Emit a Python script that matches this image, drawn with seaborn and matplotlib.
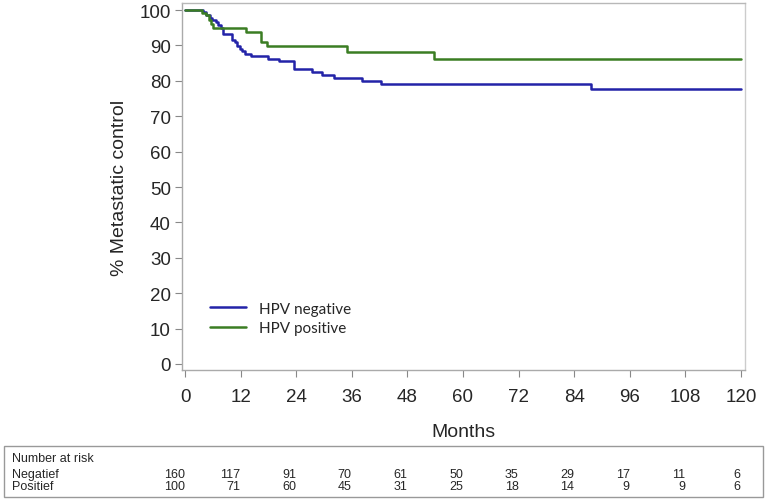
import pandas as pd
import numpy as np
import matplotlib
matplotlib.use("Agg")
import matplotlib.pyplot as plt
import matplotlib.transforms as mtransforms
from matplotlib.patches import Rectangle
from matplotlib.lines import Line2D
import seaborn as sns

# Kaplan-Meier steps (months, % metastatic control)
meses_neg = [0, 3.9, 4.6, 5.4, 5.9, 6.6, 7.1, 7.7, 8.2, 10.2, 10.9, 11.3, 11.8, 12.2,
             12.9, 14.2, 18.0, 20.2, 23.6, 27.5, 29.6, 32.2, 38.2, 42.4, 87.6, 120]
control_neg = [100, 99.4, 98.7, 97.9, 97.2, 96.5, 95.8, 94.9, 93.2, 91.6, 90.9, 89.9, 89.0, 88.3,
               87.6, 86.9, 86.2, 85.5, 83.3, 82.6, 81.6, 80.9, 80.0, 79.1, 77.7, 77.7]
meses_pos = [0, 3.7, 4.5, 5.2, 5.7, 6.1, 13.1, 16.4, 17.8, 35.0, 53.7, 120]
control_pos = [100, 99.3, 98.6, 97.2, 96.0, 95.0, 93.7, 91.1, 89.9, 88.2, 86.2, 86.2]

grupos = ["HPV negative", "HPV positive"]
colores = ["#2323a8", "#3b7d23"]

ticks_meses = [0, 12, 24, 36, 48, 60, 72, 84, 96, 108, 120]
riesgo_neg = [160, 117, 91, 70, 61, 50, 35, 29, 17, 11, 6]
riesgo_pos = [100, 71, 60, 45, 31, 25, 18, 14, 9, 9, 6]
filas_riesgo = ["Negatief", "Positief"]

df = pd.concat([
    pd.DataFrame({"Months": meses_neg, "control": control_neg, "grupo": grupos[0]}),
    pd.DataFrame({"Months": meses_pos, "control": control_pos, "grupo": grupos[1]}),
])

sns.set_style("white")
plt.rcParams["font.family"] = ["Liberation Sans", "DejaVu Sans"]

fig = plt.figure(figsize=(7.67, 5.02), dpi=100)
ax = fig.add_axes([182 / 767, 1 - 371 / 502, (745 - 182) / 767, (371 - 4) / 502])

sns.lineplot(data=df, x="Months", y="control", hue="grupo", palette=colores,
             drawstyle="steps-post", linewidth=1.8, ax=ax, legend=False)

ax.set_xlim(-0.65, 120.9)
ax.set_ylim(-1.7, 102.0)
ax.set_xticks(ticks_meses)
ax.set_yticks(range(0, 101, 10))
ax.tick_params(axis="both", direction="out", length=5, width=0.8, color="#888888",
               labelsize=13.5, pad=3, left=True, bottom=True)
ax.tick_params(axis="x", pad=8)
for s in ax.spines.values():
    s.set_color("#aaaaaa")
    s.set_linewidth(1.0)
ax.spines["top"].set_color("#b8b8b8")
ax.spines["right"].set_color("#cccccc")

ax.set_xlabel("Months", fontsize=14, labelpad=13)
ax.set_ylabel("% Metastatic control", fontsize=14, labelpad=8)

# legend
handles = [Line2D([], [], color=c, lw=1.8) for c in colores]
leg = ax.legend(handles, grupos, loc="upper left", bbox_to_anchor=(0.037, 0.207),
                frameon=False, handlelength=2.3, handletextpad=0.85, labelspacing=0.35,
                borderpad=0, prop={"family": ["Lato", "DejaVu Sans"], "size": 11})

# number at risk table
fig.patches.append(Rectangle((4 / 767, 1 - 498 / 502), 759 / 767, 51 / 502,
                             transform=fig.transFigure, fill=False,
                             edgecolor="#999999", linewidth=1.0))
tabla_font = {"family": ["Liberation Sans Narrow", "Liberation Sans", "DejaVu Sans"], "size": 9}
fig.text(12 / 767, 1 - 459 / 502, "Number at risk", va="center", ha="left", **tabla_font)
trans = mtransforms.blended_transform_factory(ax.transData, fig.transFigure)
for fila, valores, ypx in zip(filas_riesgo, [riesgo_neg, riesgo_pos], [475.5, 487.5]):
    fig.text(12 / 767, 1 - ypx / 502, fila, va="center", ha="left", **tabla_font)
    for t, v in zip(ticks_meses, valores):
        ax.text(t, 1 - ypx / 502, str(v), transform=trans, va="center", ha="right",
                clip_on=False, **tabla_font)

fig.savefig("out.png", dpi=100)
